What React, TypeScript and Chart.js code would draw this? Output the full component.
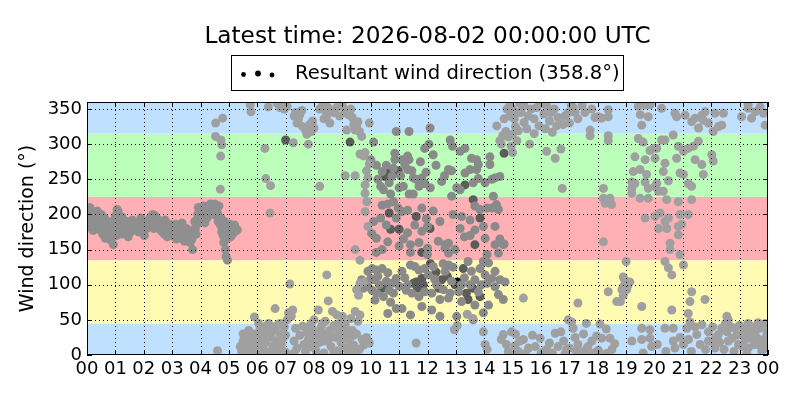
import React, { useEffect, useRef } from "react";
import { Chart, registerables } from "chart.js";

Chart.register(...registerables);

type P = [number, number];

const titleText = "Latest time: 2026-08-02 00:00:00 UTC";
const legendText = "Resultant wind direction (358.8°)";
const yAxisTitle = "Wind direction (°)";

const xTickValues = [0, 1, 2, 3, 4, 5, 6, 7, 8, 9, 10, 11, 12, 13, 14, 15, 16, 17, 18, 19, 20, 21, 22, 23, 24];
const xTickLabels = ["00", "01", "02", "03", "04", "05", "06", "07", "08", "09", "10", "11", "12", "13", "14", "15", "16", "17", "18", "19", "20", "21", "22", "23", "00"];
const yTickValues = [0, 50, 100, 150, 200, 250, 300, 350];

const bandEdges = [0, 45, 135, 225, 315, 360];
const bandColors = ["#bfe0ff", "#fffbb3", "#ffb0b4", "#bbffbb", "#bfe0ff"];

// Night band 00-05 (hour, direction °)
const bandPts: P[] = [
  [0.0, 200], [0.02, 192], [0.04, 206], [0.06, 185], [0.08, 198], [0.1, 210], [0.12, 190], [0.14, 181], [0.16, 195], [0.18, 203],
  [0.2, 188], [0.22, 177], [0.25, 200], [0.3, 192], [0.32, 183], [0.36, 205], [0.38, 196], [0.42, 186], [0.45, 178], [0.5, 200],
  [0.52, 190], [0.55, 172], [0.6, 184], [0.62, 195], [0.65, 166], [0.7, 178], [0.72, 190], [0.75, 170], [0.8, 185], [0.82, 175],
  [0.85, 163], [0.9, 180], [0.93, 157], [0.95, 192], [1.0, 198], [1.02, 185], [1.04, 170], [1.06, 207], [1.08, 193], [1.1, 204],
  [1.12, 178], [1.2, 188], [1.22, 172], [1.24, 196], [1.3, 182], [1.33, 175], [1.4, 190], [1.42, 178], [1.45, 168], [1.5, 185],
  [1.53, 175], [1.6, 192], [1.63, 180], [1.7, 178], [1.73, 186], [1.8, 188], [1.83, 175], [1.9, 195], [1.93, 182], [2.0, 176],
  [2.02, 170], [2.05, 186], [2.1, 180], [2.13, 190], [2.2, 186], [2.23, 196], [2.3, 192], [2.32, 200], [2.35, 180], [2.4, 198],
  [2.43, 185], [2.5, 193], [2.53, 180], [2.6, 188], [2.63, 176], [2.7, 182], [2.72, 172], [2.75, 192], [2.8, 178], [2.83, 168],
  [2.9, 186], [2.93, 174], [3.0, 180], [3.03, 170], [3.1, 175], [3.12, 186], [3.15, 165], [3.2, 182], [3.23, 170], [3.3, 178],
  [3.32, 168], [3.35, 188], [3.4, 172], [3.43, 162], [3.5, 180], [3.52, 168], [3.55, 175], [3.6, 170], [3.63, 160], [3.7, 165],
  [3.72, 150], [3.75, 178], [3.8, 190], [3.82, 180], [3.85, 172], [3.9, 200], [3.92, 210], [3.95, 188], [4.0, 205], [4.03, 195],
  [4.1, 212], [4.12, 198], [4.15, 188], [4.2, 205], [4.23, 195], [4.3, 208], [4.32, 200], [4.35, 215], [4.4, 212], [4.43, 203],
  [4.5, 215], [4.52, 205], [4.55, 198], [4.6, 202], [4.62, 190], [4.65, 212], [4.7, 185], [4.72, 195], [4.75, 175], [4.8, 170],
  [4.82, 160], [4.84, 190], [4.86, 180], [4.88, 150], [4.9, 140], [4.92, 165], [4.94, 185], [4.95, 135], [5.0, 178], [5.03, 186],
  [5.06, 168], [5.1, 180], [5.13, 172], [5.2, 185], [5.23, 176], [5.3, 178],
];

const lightDawnHigh: P[] = [
  [4.53, 330], [4.78, 337], [4.53, 311], [4.72, 306], [4.75, 299], [4.71, 283], [4.7, 236],
  [5.75, 356], [5.78, 346], [6.27, 294], [6.3, 251], [6.47, 241], [6.45, 202], [6.39, 353],
  [6.7, 358], [6.8, 352], [6.9, 356], [6.95, 350], [7.05, 354],
  [7.27, 302], [7.3, 340], [7.35, 345], [7.45, 335], [7.5, 342], [7.57, 348], [7.4, 330],
  [7.6, 325], [7.7, 320], [7.75, 314], [7.8, 300], [7.85, 328], [7.9, 318], [7.95, 333], [8.0, 323],
  [8.2, 240], [8.2, 350], [8.3, 355], [8.4, 348], [8.45, 340], [8.5, 352], [8.56, 330], [8.35, 336],
  [8.7, 345], [8.8, 352], [8.9, 340], [9.0, 355], [9.1, 348], [9.2, 342], [9.3, 350], [9.35, 338],
  [9.15, 320], [9.4, 328], [9.45, 320], [9.5, 325], [9.55, 332], [9.6, 318],
  [9.95, 330], [9.62, 286], [9.75, 283], [9.8, 288], [9.1, 255], [9.45, 255], [9.85, 262], [9.95, 272],
  [9.68, 311], [9.8, 242], [9.8, 230], [9.86, 218], [9.8, 204], [9.9, 183], [9.45, 150], [9.62, 135], [9.9, 252],
];

const lightDawnLow: P[] = [
  [4.6, 6], [5.4, 12], [5.45, 5], [5.5, 20], [5.55, 8], [5.6, 15], [5.65, 25], [5.7, 3], [5.75, 18], [5.8, 10],
  [5.85, 30], [5.9, 54], [5.95, 22], [6.0, 5], [6.05, 14], [6.1, 38], [6.15, 28], [6.2, 8], [6.25, 40], [6.3, 18],
  [6.35, 32], [6.4, 45], [6.45, 2], [6.5, 25], [6.55, 12], [6.6, 36], [6.63, 66], [6.65, 20], [6.7, 42], [6.75, 8],
  [6.8, 30], [6.85, 15], [6.9, 24], [6.95, 40], [7.0, 4], [7.05, 50], [7.1, 60], [7.15, 101], [7.2, 55], [7.25, 64],
  [7.3, 20], [7.35, 38], [7.4, 10], [7.5, 28], [7.6, 41], [7.65, 15], [7.7, 5], [7.75, 32], [7.8, 22], [7.85, 12],
  [7.9, 45], [7.95, 36], [8.0, 50], [8.05, 8], [8.1, 28], [8.15, 64], [8.2, 18], [8.25, 40], [8.3, 30], [8.35, 3],
  [8.4, 48], [8.45, 114], [8.5, 77], [8.5, 22], [8.55, 35], [8.6, 12], [8.65, 62], [8.7, 42], [8.75, 25], [8.8, 57],
  [8.85, 6], [8.9, 32], [8.95, 18], [9.0, 55], [9.05, 40], [9.1, 10], [9.15, 28], [9.2, 2], [9.25, 20], [9.3, 52],
  [9.35, 35], [9.4, 14], [9.45, 62], [9.5, 30], [9.55, 48], [9.6, 8], [9.62, 57], [9.7, 22], [9.75, 14], [9.85, 25],
  [9.95, 17], [5.5, 30], [5.6, 2], [5.7, 35], [5.8, 25], [5.9, 8], [6.0, 30], [6.05, 45], [6.1, 2], [6.2, 22],
  [6.3, 5], [6.4, 28], [6.5, 40], [6.6, 4], [6.7, 15], [6.8, 45], [6.9, 5], [7.0, 28], [7.3, 3], [7.8, 40],
  [7.9, 25], [8.0, 15], [8.1, 2], [8.2, 33], [8.3, 45], [8.4, 20], [8.6, 28], [8.7, 5], [8.8, 38], [8.9, 45],
  [9.0, 22], [9.1, 44], [9.2, 35], [9.3, 8], [9.4, 28], [9.5, 2], [9.5, 93], [9.62, 102], [9.75, 104], [9.57, 85],
];

const light1015: P[] = [
  [11.6, 17], [12.95, 36], [13.05, 42], [13.97, 33], [14.03, 15], [14.67, 29], [14.96, 33], [15.08, 13], [14.78, 15], [15.25, 20],
  [14.1, 8], [14.85, 5], [14.6, 22], [13.6, 52], [14.44, 326], [14.7, 336], [14.9, 340], [14.76, 318], [15.0, 314], [14.8, 350],
  [14.55, 305], [15.0, 288], [14.95, 297], [14.6, 300], [14.85, 310], [15.1, 325], [14.9, 355], [15.2, 345], [14.65, 312],
  [15.38, 81], [17.3, 74], [13.4, 58],
];

const mid1015: P[] = [
  [10.0, 278], [10.03, 273], [10.4, 261], [10.75, 254], [10.8, 266], [10.85, 278], [11.1, 278], [11.3, 283], [11.35, 278], [11.3, 264],
  [11.5, 252], [11.6, 250], [11.8, 252], [11.9, 244], [10.85, 287], [10.9, 318], [11.35, 318], [11.9, 294], [11.0, 238], [11.15, 240],
  [11.5, 229], [11.35, 229], [10.35, 240], [10.7, 229], [10.1, 303], [10.2, 270], [10.25, 250], [10.45, 235], [10.55, 270], [10.65, 245],
  [11.05, 255], [11.2, 270], [11.45, 262], [11.7, 240], [11.75, 275], [11.95, 260],
  [10.4, 213], [10.6, 215], [10.8, 218], [11.1, 204], [11.3, 206], [10.97, 209], [11.8, 209], [10.35, 195], [10.03, 173], [11.3, 174],
  [11.8, 176], [10.2, 166], [10.6, 161], [10.4, 150], [10.2, 146], [11.0, 155], [11.4, 146], [12.0, 143], [11.4, 157], [10.1, 190],
  [10.55, 185], [10.9, 195], [11.15, 165], [11.55, 185], [11.7, 160],
  [9.9, 119], [10.05, 123], [10.2, 121], [10.4, 123], [10.6, 117], [10.0, 109], [10.1, 107], [9.9, 97], [10.05, 92], [10.2, 88],
  [10.65, 92], [10.45, 83], [10.75, 102], [10.9, 109], [11.1, 119], [11.4, 128], [11.55, 126], [11.7, 121], [11.9, 123], [11.25, 92],
  [11.45, 88], [11.7, 83], [11.9, 90], [10.9, 66], [11.1, 66], [11.4, 57], [11.8, 69], [10.6, 59], [9.68, 107], [9.74, 95],
  [10.3, 100], [10.25, 112], [10.55, 105], [10.8, 88], [11.0, 98], [11.2, 110], [11.3, 100], [10.15, 78], [10.7, 75],
  [12.09, 323], [12.8, 306], [12.88, 297], [13.15, 290], [13.32, 294], [13.55, 280], [13.73, 278], [13.79, 271], [13.5, 264], [13.73, 264],
  [13.32, 259], [12.74, 264], [12.85, 262], [12.5, 247], [13.03, 238], [13.15, 235], [13.61, 245], [13.79, 251], [14.03, 245], [14.27, 250],
  [14.38, 252], [14.55, 254], [14.2, 271], [14.2, 282], [12.85, 226], [12.1, 238], [12.05, 300], [12.3, 270], [12.6, 255], [12.2, 285],
  [13.67, 212], [14.32, 226], [14.43, 214], [14.27, 209], [14.5, 207], [12.44, 190], [12.38, 162], [12.62, 157], [12.74, 159], [13.15, 180],
  [13.2, 197], [13.5, 192], [13.3, 168], [13.5, 170], [13.67, 178], [13.97, 183], [14.38, 183], [14.03, 166], [14.5, 145], [14.67, 157],
  [14.38, 157], [14.1, 143], [13.85, 207], [14.1, 209], [12.62, 152], [12.74, 145], [12.97, 150], [12.0, 152], [12.0, 183], [11.96, 194],
  [12.2, 205], [12.9, 200], [14.55, 165], [14.7, 158],
  [14.38, 97], [12.2, 126], [12.62, 119], [12.03, 114], [12.32, 100], [12.56, 93], [12.15, 88], [12.8, 88], [13.1, 90], [12.44, 79],
  [12.74, 81], [13.2, 76], [13.67, 71], [14.15, 71], [12.15, 64], [12.44, 55], [13.03, 55], [13.61, 50], [13.97, 60], [14.03, 114],
  [14.15, 131], [14.38, 119], [14.55, 107], [14.73, 104], [14.5, 86], [14.67, 79], [14.27, 109], [14.1, 102], [13.55, 119], [13.85, 123],
  [13.43, 133], [13.97, 133], [13.67, 107], [13.5, 100], [13.79, 90], [12.9, 125], [13.3, 110], [13.9, 100], [12.25, 108], [12.85, 105],
  [13.2, 100], [12.55, 130], [12.75, 128],
];

const dark1015: P[] = [
  [7.0, 306], [9.27, 303], [10.6, 263], [10.5, 254], [10.97, 262], [11.6, 197], [10.65, 202], [10.7, 179], [11.0, 179], [11.8, 146],
  [10.4, 95], [10.5, 97], [11.5, 102], [11.6, 104], [11.8, 109], [11.65, 95], [11.85, 100], [13.32, 242], [13.61, 221], [12.09, 180],
  [13.67, 157], [13.85, 195], [12.5, 107], [12.97, 100], [13.37, 88], [13.43, 79], [13.85, 83], [13.26, 123], [12.3, 118], [12.7, 112],
  [12.1, 130], [12.4, 95], [13.6, 95], [14.7, 287],
];

const latest: P[] = [[13.05, 104]];

const light1518: P[] = [
  [15.06, 336], [15.3, 345], [15.4, 331], [15.65, 350], [15.76, 336], [15.93, 326], [16.1, 343], [16.3, 333], [16.47, 350], [16.6, 338],
  [16.78, 328], [16.96, 345], [17.13, 352], [17.3, 336], [17.55, 345], [17.79, 350], [17.9, 338], [16.4, 317], [16.7, 293], [16.2, 290],
  [16.5, 280], [17.73, 312], [15.2, 319], [15.5, 322], [14.87, 312], [15.76, 315], [17.07, 355], [16.0, 357], [15.4, 355], [15.0, 350],
  [15.25, 358], [15.55, 340], [15.85, 352], [16.2, 355], [16.35, 345], [16.55, 326], [16.85, 340], [17.0, 330], [17.2, 345], [17.45, 355],
  [16.15, 322], [15.15, 305], [15.6, 300], [17.73, 320], [16.75, 237],
  [15.38, 22], [15.56, 10], [15.8, 12], [16.1, 5], [16.3, 17], [16.6, 12], [16.7, 33], [16.96, 50], [17.13, 38], [17.3, 15],
  [17.55, 6], [17.79, 20], [17.96, 27], [16.5, 31], [15.97, 24], [15.2, 5], [15.45, 2], [15.7, 28], [16.0, 2], [16.2, 8],
  [16.4, 3], [16.8, 20], [16.85, 2], [17.0, 10], [17.2, 25], [17.4, 3], [17.5, 30], [17.65, 12], [17.85, 3], [17.6, 45],
  [17.08, 47], [15.1, 30], [16.9, 8], [17.25, 5],
];

const light1824: P[] = [
  [18.02, 339], [18.37, 349], [18.37, 339], [18.14, 337], [18.37, 312], [18.37, 305], [18.2, 237], [18.2, 223], [18.26, 216], [18.43, 223],
  [18.49, 214], [18.2, 161],
  [19.5, 342], [19.55, 327], [19.78, 339], [20.25, 351], [19.67, 356], [20.72, 344], [20.78, 339], [21.08, 341], [21.31, 332], [21.43, 337],
  [21.55, 323], [21.67, 341], [21.78, 346], [21.72, 334], [21.9, 330], [22.07, 318], [22.13, 344], [22.25, 325], [22.37, 327], [22.43, 344],
  [23.07, 339], [23.3, 351], [23.42, 337], [23.55, 346], [23.72, 353], [23.9, 327], [23.84, 344], [19.43, 354], [19.84, 356], [23.3, 356],
  [19.43, 308], [19.6, 303], [19.84, 291], [19.96, 294], [20.08, 294], [20.25, 306], [20.37, 306], [20.66, 313], [20.84, 297], [21.02, 290],
  [21.19, 294], [21.37, 297], [21.55, 304], [21.43, 278], [21.67, 271], [21.72, 257], [22.02, 285], [22.07, 276], [19.31, 282], [19.67, 278],
  [20.02, 280], [20.37, 273], [20.31, 261], [20.78, 280], [20.9, 259], [21.02, 257], [19.25, 261], [19.49, 264], [19.72, 257], [19.2, 246],
  [19.2, 237], [19.2, 230], [19.31, 244], [19.67, 246], [19.78, 237], [20.02, 240], [20.14, 233], [20.31, 233], [20.08, 244], [20.49, 248],
  [21.19, 244], [21.31, 240], [21.31, 221], [19.49, 223], [19.78, 223], [20.43, 221], [20.84, 218],
  [19.67, 195], [20.02, 197], [20.2, 202], [20.37, 190], [20.49, 195], [20.14, 180], [20.43, 180], [20.9, 200], [21.19, 200], [20.84, 183],
  [20.96, 186], [20.84, 171], [20.55, 159], [20.55, 150], [20.9, 143],
  [19.0, 133], [18.9, 111], [18.96, 106], [19.08, 102], [18.9, 97], [19.02, 93], [18.85, 93], [19.13, 104], [18.37, 90], [18.67, 76],
  [18.8, 76], [19.55, 69], [20.37, 133], [20.49, 124], [20.61, 114], [21.02, 128], [21.31, 90], [21.25, 76], [21.78, 79], [20.61, 64],
  [21.19, 59], [21.25, 47], [22.55, 55], [22.6, 50], [18.95, 100], [19.05, 98], [18.9, 85],
  [18.08, 44], [18.14, 24], [18.43, 24], [18.02, 7], [19.55, 38], [19.84, 36], [20.37, 38], [20.66, 38], [19.84, 24], [19.55, 22],
  [20.66, 20], [19.9, 12], [20.72, 10], [21.02, 15], [21.14, 38], [21.43, 40], [21.67, 43], [21.49, 29], [21.61, 15], [21.9, 33],
  [22.02, 19], [22.13, 10], [22.25, 29], [22.37, 38], [22.55, 33], [22.73, 24], [22.84, 38], [22.96, 15], [23.07, 29], [23.19, 38],
  [23.3, 10], [23.42, 24], [23.55, 33], [23.66, 15], [23.78, 5], [23.9, 24], [23.96, 33], [22.3, 18], [22.45, 8], [22.6, 20],
  [22.7, 40], [22.8, 5], [22.9, 28], [23.0, 42], [23.1, 12], [23.2, 22], [23.25, 2], [23.35, 30], [23.45, 40], [23.5, 15],
  [23.6, 25], [23.7, 38], [23.75, 20], [23.85, 10], [23.95, 15], [22.15, 25], [22.05, 40], [21.8, 8], [21.3, 5], [20.4, 5],
  [19.6, 3], [18.3, 2], [18.5, 8], [19.2, 20], [20.1, 15], [20.9, 25], [21.2, 22], [21.9, 20], [22.5, 45], [23.3, 45],
  [23.65, 46], [23.9, 45], [18.3, 37], [18.6, 16],
];

const FONT = "'DejaVu Sans', 'Liberation Sans', sans-serif";

const toXY = (pts: P[]) => pts.map(([h, d]) => ({ x: h, y: d }));

const decorPlugin = {
  id: "decor",
  beforeDatasetsDraw(chart: any) {
    const { ctx, chartArea: a, scales } = chart;
    const y = scales.y;
    ctx.save();
    for (let i = 0; i < bandEdges.length - 1; i++) {
      const top = y.getPixelForValue(bandEdges[i + 1]);
      const bot = y.getPixelForValue(bandEdges[i]);
      ctx.fillStyle = bandColors[i];
      ctx.fillRect(a.left, top, a.right - a.left, bot - top);
    }
    ctx.restore();
  },
  afterDatasetsDraw(chart: any) {
    const { ctx, chartArea: a, scales } = chart;
    const x = scales.x;
    const y = scales.y;
    ctx.save();
    ctx.strokeStyle = "#000";
    ctx.lineWidth = 1;
    ctx.setLineDash([1, 3]);
    ctx.beginPath();
    xTickValues.forEach((v) => {
      const px = Math.round(x.getPixelForValue(v)) + 0.5;
      if (px <= a.left + 1 || px >= a.right - 1) return;
      ctx.moveTo(px, a.top);
      ctx.lineTo(px, a.bottom);
    });
    yTickValues.forEach((v) => {
      const py = Math.round(y.getPixelForValue(v)) + 0.5;
      if (py <= a.top + 1 || py >= a.bottom - 1) return;
      ctx.moveTo(a.left, py);
      ctx.lineTo(a.right, py);
    });
    ctx.stroke();
    ctx.setLineDash([]);
    const tl = 5;
    ctx.beginPath();
    xTickValues.forEach((v) => {
      const px = Math.round(x.getPixelForValue(v)) + 0.5;
      ctx.moveTo(px, a.bottom);
      ctx.lineTo(px, a.bottom - tl);
      ctx.moveTo(px, a.top);
      ctx.lineTo(px, a.top + tl);
    });
    yTickValues.forEach((v) => {
      const py = Math.round(y.getPixelForValue(v)) + 0.5;
      ctx.moveTo(a.left, py);
      ctx.lineTo(a.left + tl, py);
      ctx.moveTo(a.right, py);
      ctx.lineTo(a.right - tl, py);
    });
    ctx.stroke();
    ctx.strokeRect(Math.round(a.left) + 0.5, Math.round(a.top) + 0.5, Math.round(a.right - a.left) - 1, Math.round(a.bottom - a.top) - 1);
    ctx.restore();
  },
  afterDraw(chart: any) {
    const { ctx, chartArea: a } = chart;
    ctx.save();
    ctx.fillStyle = "#000";
    ctx.font = `23.2px ${FONT}`;
    ctx.textAlign = "center";
    ctx.textBaseline = "alphabetic";
    ctx.fillText(titleText, (a.left + a.right) / 2, 43);
    // legend box
    const bx = 231.5, by = 55.5, bw = 392, bh = 35;
    ctx.fillStyle = "#fff";
    ctx.fillRect(bx, by, bw, bh);
    ctx.strokeStyle = "#000";
    ctx.lineWidth = 1;
    ctx.strokeRect(bx, by, bw, bh);
    ctx.fillStyle = "#000";
    const dots: [number, number, number][] = [[243.5, 74.5, 2.4], [258, 73.5, 2.9], [272, 75, 2.4]];
    dots.forEach(([cx, cy, r]) => {
      ctx.beginPath();
      ctx.arc(cx, cy, r, 0, Math.PI * 2);
      ctx.fill();
    });
    ctx.font = `19.6px ${FONT}`;
    ctx.textAlign = "left";
    ctx.fillText(legendText, 295, 79);
    ctx.restore();
  },
};

export default function App() {
  const ref = useRef<HTMLCanvasElement | null>(null);
  useEffect(() => {
    if (!ref.current) return;
    const groups = [
      { pts: [...lightDawnHigh, ...lightDawnLow, ...light1015, ...light1518, ...light1824], color: "#a0a0a0" },
      { pts: bandPts, color: "#8f8f8f" },
      { pts: mid1015, color: "#8a8a8a" },
      { pts: dark1015, color: "#5c5c5c" },
      { pts: latest, color: "#000000" },
    ];
    const chart = new Chart(ref.current, {
      type: "scatter",
      data: {
        datasets: groups.map((g, i) => ({
          label: i === 4 ? legendText : `g${i}`,
          data: toXY(g.pts),
          backgroundColor: g.color,
          borderColor: g.color,
          borderWidth: 0,
          pointRadius: 4.5,
          pointHoverRadius: 4.5,
          clip: 0,
        })),
      },
      options: {
        responsive: false,
        animation: false,
        devicePixelRatio: 1,
        events: [],
        layout: { padding: { top: 102, right: 32, bottom: 0, left: 0 } },
        plugins: { legend: { display: false }, title: { display: false }, tooltip: { enabled: false } },
        scales: {
          x: {
            type: "linear",
            min: 0,
            max: 24,
            grid: { display: false, drawTicks: false },
            border: { display: false },
            afterBuildTicks: (s: any) => {
              s.ticks = xTickValues.map((v) => ({ value: v }));
            },
            afterFit: (s: any) => {
              s.height = 45;
            },
            ticks: {
              autoSkip: false,
              maxRotation: 0,
              padding: 4,
              color: "#000",
              font: { family: FONT, size: 18 },
              callback: (_v: any, i: number) => xTickLabels[i],
            },
          },
          y: {
            type: "linear",
            min: 0,
            max: 360,
            grid: { display: false, drawTicks: false },
            border: { display: false },
            afterBuildTicks: (s: any) => {
              s.ticks = yTickValues.map((v) => ({ value: v }));
            },
            afterFit: (s: any) => {
              s.width = 87;
            },
            ticks: {
              padding: 5,
              color: "#000",
              font: { family: FONT, size: 18 },
              callback: (v: any) => String(v),
            },
            title: {
              display: true,
              text: yAxisTitle,
              color: "#000",
              font: { family: FONT, size: 19 },
              padding: { top: 17, bottom: 0 },
            },
          },
        },
      },
      plugins: [decorPlugin],
    });
    return () => chart.destroy();
  }, []);
  return (
    <div style={{ position: "fixed", left: 0, top: 0, width: 800, height: 400, background: "#fff" }}>
      <canvas ref={ref} width={800} height={400} style={{ display: "block", width: 800, height: 400 }} />
    </div>
  );
}
